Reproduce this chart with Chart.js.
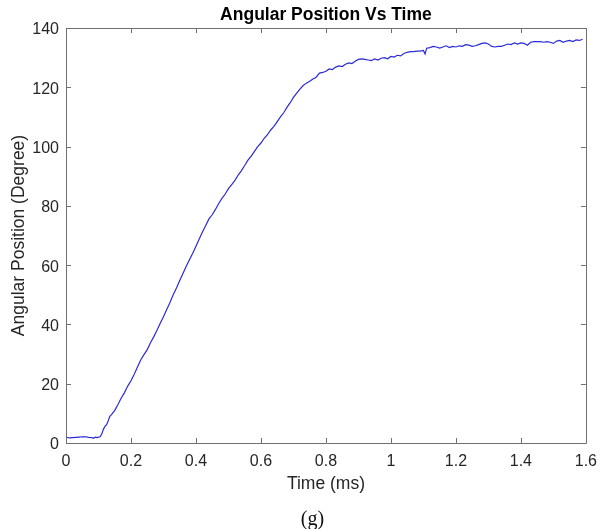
<!DOCTYPE html>
<html><head><meta charset="utf-8">
<script src="https://cdn.jsdelivr.net/npm/chart.js@4/dist/chart.umd.min.js"></script>
<style>html,body{margin:0;padding:0;background:#fff;}#wrap{position:relative;width:606px;height:529px;}</style>
</head><body><div id="wrap"><canvas id="c" width="606" height="529"></canvas></div>
<script>
const chartTitle = 'Angular Position Vs Time';
const xTitle = 'Time (ms)';
const yTitle = 'Angular Position (Degree)';
const caption = '(g)';
const xTicks = [0, 0.2, 0.4, 0.6, 0.8, 1, 1.2, 1.4, 1.6];
const yTicks = [0, 20, 40, 60, 80, 100, 120, 140];

const timeMs = [
  0, 0.01, 0.02, 0.03, 0.04, 0.05, 0.06, 0.07, 0.08, 0.085, 0.09, 0.095, 0.10, 0.105,
  0.11, 0.115, 0.12, 0.125, 0.13, 0.135, 0.14, 0.15, 0.16, 0.17, 0.18, 0.19,
  0.20, 0.21, 0.22, 0.23, 0.24, 0.25, 0.26, 0.27, 0.28, 0.29,
  0.30, 0.31, 0.32, 0.33, 0.34, 0.35, 0.36, 0.37, 0.38, 0.39,
  0.40, 0.41, 0.42, 0.43, 0.44, 0.45, 0.46, 0.47, 0.48, 0.49,
  0.50, 0.51, 0.52, 0.53, 0.54, 0.55, 0.56, 0.57, 0.58, 0.59,
  0.60, 0.61, 0.62, 0.63, 0.64, 0.65, 0.66, 0.67, 0.68, 0.69,
  0.70, 0.71, 0.72, 0.73, 0.74, 0.75, 0.76, 0.77, 0.78, 0.79,
  0.80, 0.81, 0.82, 0.83, 0.84, 0.85, 0.86, 0.87, 0.88, 0.89,
  0.90, 0.91, 0.92, 0.93, 0.94, 0.95, 0.96, 0.97, 0.98, 0.99,
  1.00, 1.01, 1.02, 1.03, 1.04, 1.05, 1.06, 1.07, 1.08, 1.09,
  1.10, 1.105, 1.11, 1.12, 1.13, 1.14, 1.15, 1.16, 1.17, 1.18, 1.19,
  1.20, 1.21, 1.22, 1.23, 1.24, 1.25, 1.26, 1.27, 1.28, 1.29,
  1.30, 1.31, 1.32, 1.33, 1.34, 1.35, 1.36, 1.37, 1.38, 1.39,
  1.40, 1.41, 1.42, 1.43, 1.44, 1.45, 1.46, 1.47, 1.48, 1.49,
  1.50, 1.51, 1.52, 1.53, 1.54, 1.55, 1.56, 1.57, 1.58, 1.59
];
const angleDeg = [
  2.0, 1.7, 1.8, 1.9, 2.0, 2.1, 2.1, 1.9, 1.8, 1.6, 2.0, 1.8, 2.0, 2.1,
  3.0, 4.6, 5.6, 6.2, 7.5, 9.0, 9.6, 11.0, 13.0, 15.2, 17.0, 19.2,
  21.0, 23.2, 25.6, 28.0, 29.8, 31.5, 33.8, 35.8, 38.0, 40.4,
  42.6, 45.0, 47.4, 50.0, 52.3, 54.8, 57.2, 59.6, 61.8, 64.0,
  66.4, 68.8, 71.2, 73.4, 75.6, 77.0, 78.8, 80.8, 82.5, 84.0,
  85.8, 87.2, 88.6, 90.4, 91.9, 93.6, 95.4, 96.8, 98.4, 100.0,
  101.2, 102.8, 104.0, 105.6, 106.8, 108.4, 110.0, 111.4, 113.2, 114.8,
  116.6, 118.0, 119.4, 120.6, 121.4, 122.0, 122.8, 123.4, 124.8, 125.0,
  125.4, 126.2, 126.0, 126.8, 127.2, 127.0, 127.8, 128.2, 128.0, 128.8,
  129.4, 129.6, 129.4, 129.2, 129.0, 129.6, 129.2, 129.8, 130.0, 129.6,
  130.4, 130.2, 130.8, 130.6, 131.4, 131.8, 132.0, 132.0, 132.2, 132.2,
  132.4, 131.2, 133.2, 133.4, 133.8, 133.6, 133.2, 133.6, 134.0, 133.4, 133.8,
  133.6, 134.0, 133.8, 134.4, 134.2, 133.8, 134.0, 134.4, 134.8, 135.0,
  134.6, 133.8, 133.6, 133.8, 133.8, 134.2, 134.6, 134.4, 135.0, 134.6,
  135.0, 134.8, 134.2, 135.2, 135.4, 135.4, 135.4, 135.2, 135.4, 135.2,
  134.8, 135.6, 135.8, 135.2, 135.6, 135.8, 135.4, 136.0, 135.8, 136.2
];

const points = timeMs.map((t, i) => ({x: t, y: angleDeg[i]}));
const axisColor = '#707070';
const textColor = '#262626';
const sans = "'Liberation Sans', Arial, sans-serif";

const frameTicks = {
  id: 'frameTicks',
  afterDraw(chart) {
    const {ctx, chartArea: a} = chart;
    const xs = chart.scales.x, ys = chart.scales.y;
    ctx.save();
    ctx.strokeStyle = axisColor;
    ctx.lineWidth = 1;
    ctx.beginPath();
    ctx.rect(Math.round(a.left) + 0.5, Math.round(a.top) + 0.5, Math.round(a.right - a.left), Math.round(a.bottom - a.top));
    ctx.stroke();
    ctx.beginPath();
    xTicks.forEach(v => {
      const px = Math.round(xs.getPixelForValue(v)) + 0.5;
      ctx.moveTo(px, a.bottom); ctx.lineTo(px, a.bottom - 5);
      ctx.moveTo(px, a.top); ctx.lineTo(px, a.top + 5);
    });
    yTicks.forEach(v => {
      const py = Math.round(ys.getPixelForValue(v)) + 0.5;
      ctx.moveTo(a.left, py); ctx.lineTo(a.left + 5, py);
      ctx.moveTo(a.right, py); ctx.lineTo(a.right - 5, py);
    });
    ctx.stroke();
    ctx.fillStyle = '#111';
    ctx.font = "20px 'Liberation Serif', 'Times New Roman', serif";
    ctx.textAlign = 'center';
    ctx.textBaseline = 'alphabetic';
    ctx.fillText(caption, 312.5, 524.5);
    ctx.restore();
  }
};

new Chart(document.getElementById('c'), {
  type: 'line',
  data: {
    datasets: [{
      data: points,
      borderColor: '#2b2bd6',
      borderWidth: 1.2,
      pointRadius: 0,
      tension: 0,
      fill: false
    }]
  },
  options: {
    responsive: false,
    animation: false,
    devicePixelRatio: 1,
    layout: {padding: {left: 0, right: 13, top: 0, bottom: 0}},
    plugins: {legend: {display: false}, tooltip: {enabled: false}, title: {display: false}},
    scales: {
      x: {
        type: 'linear', position: 'bottom', min: 0, max: 1.6,
        afterBuildTicks: s => { s.ticks = xTicks.map(v => ({value: v})); },
        afterFit: s => { s.height = 86; },
        grid: {display: false, drawTicks: false},
        border: {display: false},
        ticks: {color: textColor, font: {family: sans, size: 16}, padding: 9, maxRotation: 0, autoSkip: false,
                callback: v => String(v)},
        title: {display: true, text: xTitle, color: textColor, font: {family: sans, size: 17.5}, padding: {top: 0, bottom: 34}}
      },
      x2: {
        type: 'linear', position: 'top', min: 0, max: 1.6,
        afterFit: s => { s.height = 28; },
        grid: {display: false, drawTicks: false},
        border: {display: false},
        ticks: {display: false},
        title: {display: true, text: chartTitle, color: '#000', font: {family: sans, size: 17.5, weight: 'bold'}, padding: {top: 4.5, bottom: 0}}
      },
      y: {
        type: 'linear', position: 'left', min: 0, max: 140,
        afterBuildTicks: s => { s.ticks = yTicks.map(v => ({value: v})); },
        afterFit: s => { s.width = 66; },
        grid: {display: false, drawTicks: false},
        border: {display: false},
        ticks: {color: textColor, font: {family: sans, size: 16}, padding: 7, labelOffset: 2, autoSkip: false,
                callback: v => String(v)},
        title: {display: true, text: yTitle, color: textColor, font: {family: sans, size: 17.5}, padding: {top: 8.5, bottom: 0}}
      }
    }
  },
  plugins: [frameTicks]
});
</script></body></html>
